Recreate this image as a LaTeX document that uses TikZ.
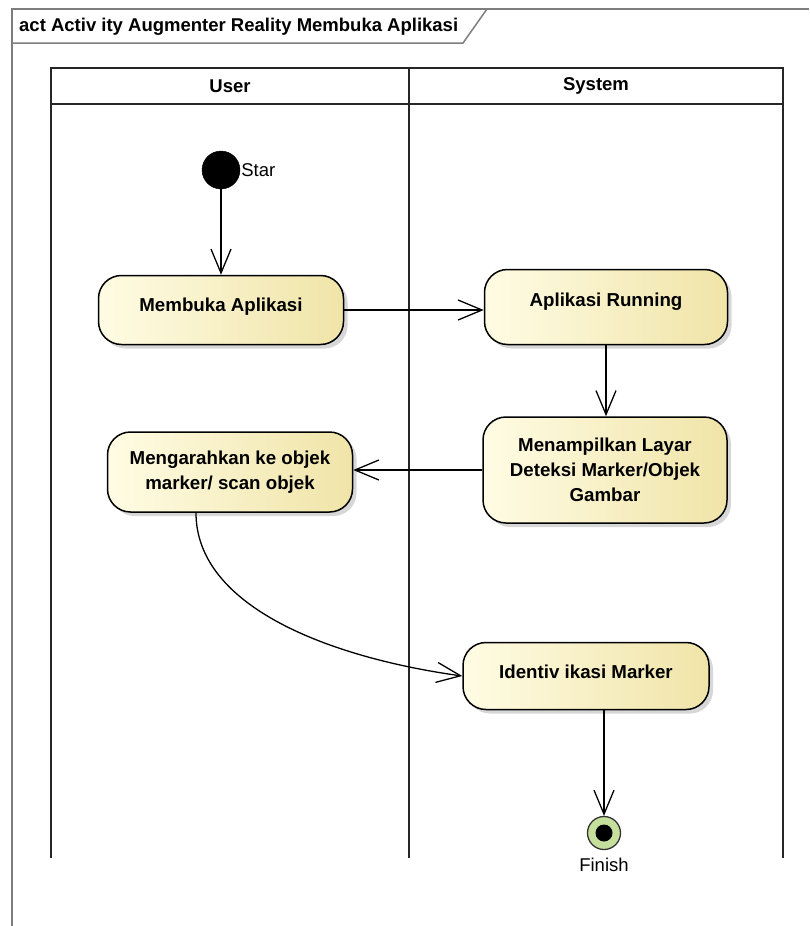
\documentclass[tikz,border=0pt]{standalone}
\usepackage{fontspec}
\setmainfont{Liberation Sans}
\usetikzlibrary{arrows.meta,shadows}

\definecolor{ActionLight}{RGB}{255,252,228}
\definecolor{ActionDark}{RGB}{240,228,168}
\definecolor{FinalGreen}{RGB}{196,224,156}
\definecolor{FrameGray}{RGB}{125,125,125}

\begin{document}
\begin{tikzpicture}[
    x=1pt, y=-1pt,
    Frame/.style={draw=FrameGray,line width=1.5pt},
    Lane/.style={draw=black!85,line width=2pt},
    Header/.style={font=\bfseries\fontsize{18.5}{22}\selectfont},
    Title/.style={font=\bfseries\fontsize{18.5}{22}\selectfont,inner sep=0pt},
    Note/.style={font=\fontsize{18.5}{22}\selectfont,inner sep=1pt},
    Action/.style={draw=black,line width=1.5pt,rounded corners=23pt,
      left color=ActionLight,right color=ActionDark,
      drop shadow={shadow xshift=4pt,shadow yshift=-4pt,fill=black!35,opacity=0.45},
      align=center,font=\bfseries\fontsize{18.7}{25}\selectfont,inner sep=0pt},
    Initial/.style={circle,fill=black,draw=black,minimum size=38pt,inner sep=0pt},
    Final/.style={circle,fill=FinalGreen,draw=black!80,line width=1.3pt,minimum size=33pt,inner sep=0pt},
    Flow/.style={-{Straight Barb[length=24pt,width=20pt]},line width=1.3pt},
    ]

    \useasboundingbox (0,0) rectangle (809,926);

    \draw[Frame] (12,926) -- (12,9) -- (809,9);
    \draw[Frame] (12,43) -- (463,43) -- (487,9);
    \node[Title,anchor=west] (Title) at (19,27) {act Activ ity Augmenter Reality Membuka Aplikasi};

    \draw[Lane] (51,858) -- (51,68) -- (783,68) -- (783,858);
    \draw[Lane] (51,104) -- (783,104);
    \draw[Lane] (409,68) -- (409,858);
    \node[Header] (UserLane) at (230,86) {User};
    \node[Header] (SystemLane) at (596,86) {System};

    \node[Initial,label={[Note]right:Star}] (Start) at (221,170) {};
    \node[Action,minimum width=245pt,minimum height=69pt,text depth=10pt] (Open) at (221,310) {Membuka Aplikasi};
    \node[Action,minimum width=243pt,minimum height=75pt,text depth=14pt] (Run) at (606,307) {Aplikasi Running};
    \node[Action,minimum width=244pt,minimum height=106pt] (Detect) at (605,470) {Menampilkan Layar\\Deteksi Marker/Objek\\Gambar};
    \node[Action,minimum width=245pt,minimum height=80pt] (Aim) at (230,472) {Mengarahkan ke objek\\marker/ scan objek};
    \node[Action,minimum width=246pt,minimum height=67pt,text depth=9pt] (Ident) at (586,676) {Identiv ikasi Marker};
    \node[Final,label={[Note,label distance=7pt]below:Finish}] (Finish) at (604,833) {};
    \fill[black] (Finish) circle (8.5pt);

    \draw[Flow] (Start) -- (Open);
    \draw[Flow] (Open.east) -- (Open.east -| Run.west);
    \draw[Flow] (Run.south) -- (Run.south |- Detect.north);
    \draw[Flow] (Detect.west) -- (Detect.west -| Aim.east);
    \draw[Flow] ([xshift=-34pt]Aim.south) .. controls +(0,95) and +(-130,-18) .. (Ident.west);
    \draw[Flow] (Finish |- Ident.south) -- (Finish);
  \end{tikzpicture}
\end{document}
